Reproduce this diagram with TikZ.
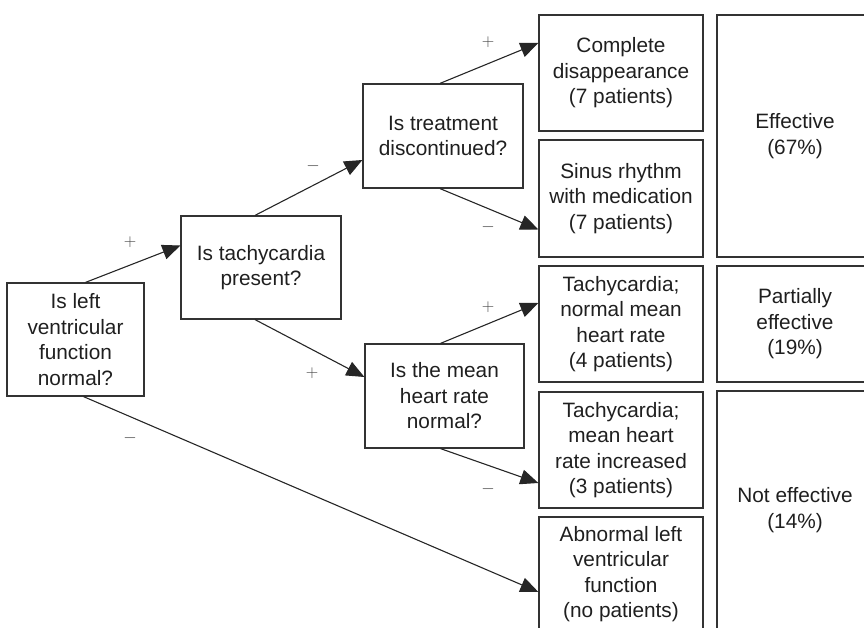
\documentclass[tikz,border=0pt]{standalone}
\usepackage{fontspec}
\setmainfont{Liberation Sans}
\usetikzlibrary{arrows.meta}

\definecolor{boxline}{HTML}{333333}
\definecolor{signgray}{HTML}{444444}
\tikzstyle{decision}=[draw=boxline, line width=1.2pt, align=center, inner sep=0pt, text=black!88,
  font=\fontsize{20.8}{25.5}\selectfont]
\tikzstyle{outcome}=[decision, minimum width=164pt]
\tikzstyle{verdict}=[decision, minimum width=156pt]
\tikzstyle{branch}=[draw=black!85, line width=1.1pt, -{Triangle[length=18pt,width=15pt]}]
\tikzstyle{sign}=[inner sep=0pt, text=signgray, font=\fontsize{19}{22}\selectfont]

\begin{document}
\begin{tikzpicture}[x=1pt, y=-1pt]
      \useasboundingbox (0,0) rectangle (864,628);

      % questions
      \node (lv) at (75.5, 339.5)
            [decision, minimum width=137pt, minimum height=113pt] {Is left\\ventricular\\function\\normal?};
      \node (tachy) at (261, 267.5)
            [decision, minimum width=160pt, minimum height=103pt] {Is tachycardia\\present?};
      \node (treat) at (443, 136)
            [decision, minimum width=160pt, minimum height=104pt] {Is treatment\\discontinued?};
      \node (meanhr) at (444.5, 396)
            [decision, minimum width=159pt, minimum height=104pt] {Is the mean\\heart rate\\normal?};

      % outcomes
      \node (complete) at (621, 73)
            [outcome, minimum height=116pt] {Complete\\disappearance\\(7 patients)};
      \node (sinus) at (621, 198.5)
            [outcome, minimum height=117pt] {Sinus rhythm\\with medication\\(7 patients)};
      \node (tnormal) at (621, 324)
            [outcome, minimum height=116pt] {Tachycardia;\\normal mean\\heart rate\\(4 patients)};
      \node (tincr) at (621, 450)
            [outcome, minimum height=116pt] {Tachycardia;\\mean heart\\rate increased\\(3 patients)};
      \node (abnormal) at (621, 574)
            [outcome, minimum height=114pt] {Abnormal left\\ventricular\\function\\(no patients)};

      % verdicts
      \node (effective) at (795, 136)
            [verdict, minimum height=242pt] {Effective\\(67\%)};
      \node (partial) at (795, 324)
            [verdict, minimum height=116pt] {Partially\\effective\\(19\%)};
      \node (noteff) at (795, 510)
            [verdict, minimum height=238pt] {Not effective\\(14\%)};

      % branches
      \draw[branch] ([xshift=10pt]lv.north) -- ([yshift=22pt]tachy.west);
      \draw[branch] ([xshift=8pt]lv.south) -- ([yshift=-18pt]abnormal.west);
      \draw[branch] ([xshift=-6pt]tachy.north) -- ([yshift=-24pt]treat.west);
      \draw[branch] ([xshift=-6pt]tachy.south) -- ([yshift=19pt]meanhr.west);
      \draw[branch] ([xshift=-3pt]treat.north) -- ([yshift=30pt]complete.west);
      \draw[branch] ([xshift=-3pt]treat.south) -- ([yshift=-31pt]sinus.west);
      \draw[branch] ([xshift=-4pt]meanhr.north) -- ([yshift=21pt]tnormal.west);
      \draw[branch] ([xshift=-4pt]meanhr.south) -- ([yshift=-33pt]tincr.west);

      % signs
      \node (s-lv-yes) at (130, 242) [sign] {$+$};
      \node (s-lv-no) at (130, 438) [sign] {$-$};
      \node (s-tachy-no) at (313, 166) [sign] {$-$};
      \node (s-tachy-yes) at (312, 373) [sign] {$+$};
      \node (s-treat-yes) at (488, 42) [sign] {$+$};
      \node (s-treat-no) at (488, 227) [sign] {$-$};
      \node (s-hr-yes) at (488, 307) [sign] {$+$};
      \node (s-hr-no) at (488, 489) [sign] {$-$};
\end{tikzpicture}
\end{document}
